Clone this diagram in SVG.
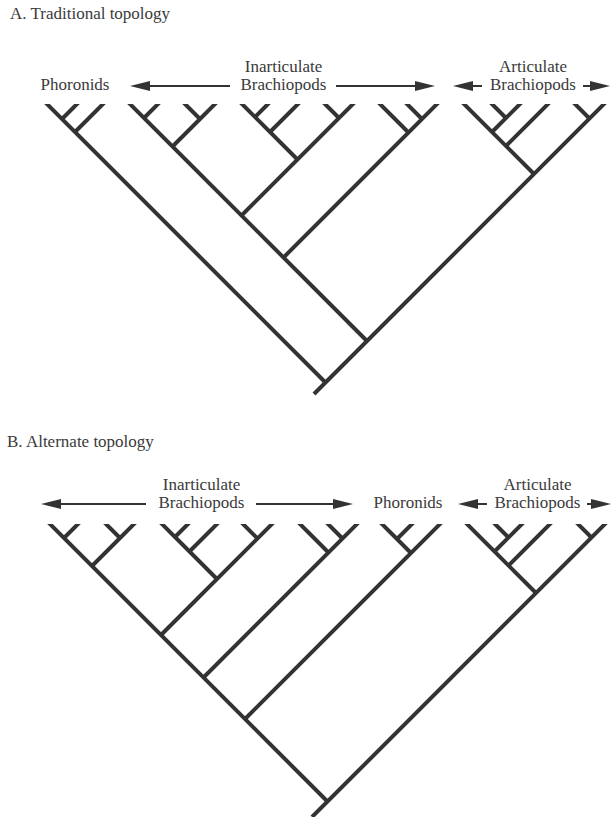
<svg xmlns="http://www.w3.org/2000/svg" width="612" height="817" viewBox="0 0 612 817">
<style>
.br{stroke:#333;stroke-width:4;stroke-linecap:butt;fill:none}
.ar{stroke:#333;stroke-width:2;fill:none;marker-end:url(#ah)}
text{font-family:"Liberation Serif","Times New Roman",serif;font-size:17px;fill:#3a3a3a}
.c{text-anchor:middle}
</style>
<defs>
<marker id="ah" markerUnits="userSpaceOnUse" viewBox="0 0 20 10" markerWidth="20" markerHeight="10" refX="8" refY="5" orient="auto">
<path d="M0,0 L20,5 L0,10 z" fill="#333"/>
</marker>
<clipPath id="clipA"><rect x="0" y="104" width="612" height="310"/></clipPath>
<clipPath id="clipB"><rect x="0" y="524" width="612" height="293"/></clipPath>
</defs>
<rect width="612" height="817" fill="#fff"/>

<g id="titleA"><text x="10" y="19">A. Traditional topology</text></g>
<g id="titleB"><text x="7" y="447">B. Alternate topology</text></g>

<g id="labelsA">
<text class="c" x="75" y="90">Phoronids</text>
<text class="c" x="283.5" y="72">Inarticulate</text>
<text class="c" x="283.5" y="90">Brachiopods</text>
<text class="c" x="533" y="72">Articulate</text>
<text class="c" x="533" y="90">Brachiopods</text>
</g>
<g id="labelsB">
<text class="c" x="201.5" y="490">Inarticulate</text>
<text class="c" x="201.5" y="508">Brachiopods</text>
<text class="c" x="408" y="508">Phoronids</text>
<text class="c" x="537.5" y="490">Articulate</text>
<text class="c" x="537.5" y="508">Brachiopods</text>
</g>

<g id="connectors">
<line class="ar" x1="230" y1="86" x2="142" y2="86"/>
<line class="ar" x1="336" y1="86" x2="423" y2="86"/>
<line class="ar" x1="482" y1="86" x2="465" y2="86"/>
<line class="ar" x1="583" y1="86" x2="598" y2="86"/>
<line class="ar" x1="146" y1="504" x2="53" y2="504"/>
<line class="ar" x1="256" y1="504" x2="341" y2="504"/>
<line class="ar" x1="487" y1="504" x2="470" y2="504"/>
<line class="ar" x1="587" y1="504" x2="599" y2="504"/>
</g>

<g id="treeA" clip-path="url(#clipA)">
<g id="A-phoronids">
<line class="br" x1="44" y1="101" x2="325.5" y2="382.5"/>
<line class="br" x1="80" y1="101" x2="62" y2="119"/>
<line class="br" x1="106" y1="101" x2="75" y2="132"/>
</g>
<g id="A-inarticulate1">
<line class="br" x1="127" y1="101" x2="367" y2="341"/>
<line class="br" x1="161" y1="101" x2="144" y2="118"/>
<line class="br" x1="182" y1="101" x2="200" y2="119"/>
<line class="br" x1="218" y1="101" x2="172.5" y2="146.5"/>
</g>
<g id="A-inarticulate2">
<line class="br" x1="239" y1="101" x2="297.5" y2="159.5"/>
<line class="br" x1="271" y1="101" x2="255" y2="117"/>
<line class="br" x1="301" y1="101" x2="270" y2="132"/>
<line class="br" x1="322" y1="101" x2="339" y2="118"/>
<line class="br" x1="356" y1="101" x2="241.5" y2="215.5"/>
</g>
<g id="A-inarticulate3">
<line class="br" x1="377" y1="101" x2="408.5" y2="132.5"/>
<line class="br" x1="404" y1="101" x2="422" y2="119"/>
<line class="br" x1="440" y1="101" x2="283.5" y2="257.5"/>
</g>
<g id="A-articulate">
<line class="br" x1="461" y1="101" x2="534" y2="174"/>
<line class="br" x1="489" y1="101" x2="506" y2="118"/>
<line class="br" x1="523" y1="101" x2="492" y2="132"/>
<line class="br" x1="551" y1="101" x2="506" y2="146"/>
<line class="br" x1="572" y1="101" x2="589.5" y2="118.5"/>
<line class="br" x1="607" y1="101" x2="314" y2="394"/>
</g>
</g>

<g id="treeB" clip-path="url(#clipB)">
<g id="B-inarticulate1">
<line class="br" x1="47" y1="521" x2="327.5" y2="801.5"/>
<line class="br" x1="81" y1="521" x2="64" y2="538"/>
<line class="br" x1="103" y1="521" x2="120" y2="538"/>
<line class="br" x1="137" y1="521" x2="92" y2="566"/>
</g>
<g id="B-inarticulate2">
<line class="br" x1="159" y1="521" x2="217" y2="579"/>
<line class="br" x1="191" y1="521" x2="175" y2="537"/>
<line class="br" x1="220" y1="521" x2="189.5" y2="551.5"/>
<line class="br" x1="240" y1="521" x2="257.5" y2="538.5"/>
<line class="br" x1="275" y1="521" x2="161" y2="635"/>
</g>
<g id="B-inarticulate3">
<line class="br" x1="297" y1="521" x2="328.5" y2="552.5"/>
<line class="br" x1="325" y1="521" x2="342.5" y2="538.5"/>
<line class="br" x1="360" y1="521" x2="203.5" y2="677.5"/>
</g>
<g id="B-phoronids">
<line class="br" x1="379" y1="521" x2="411" y2="553"/>
<line class="br" x1="415" y1="521" x2="397" y2="539"/>
<line class="br" x1="443" y1="521" x2="245" y2="719"/>
</g>
<g id="B-articulate">
<line class="br" x1="464" y1="521" x2="536" y2="593"/>
<line class="br" x1="492" y1="521" x2="508.5" y2="537.5"/>
<line class="br" x1="525" y1="521" x2="494.5" y2="551.5"/>
<line class="br" x1="553" y1="521" x2="508.5" y2="565.5"/>
<line class="br" x1="575" y1="521" x2="591.5" y2="537.5"/>
<line class="br" x1="608" y1="521" x2="312" y2="817"/>
</g>
</g>
</svg>
